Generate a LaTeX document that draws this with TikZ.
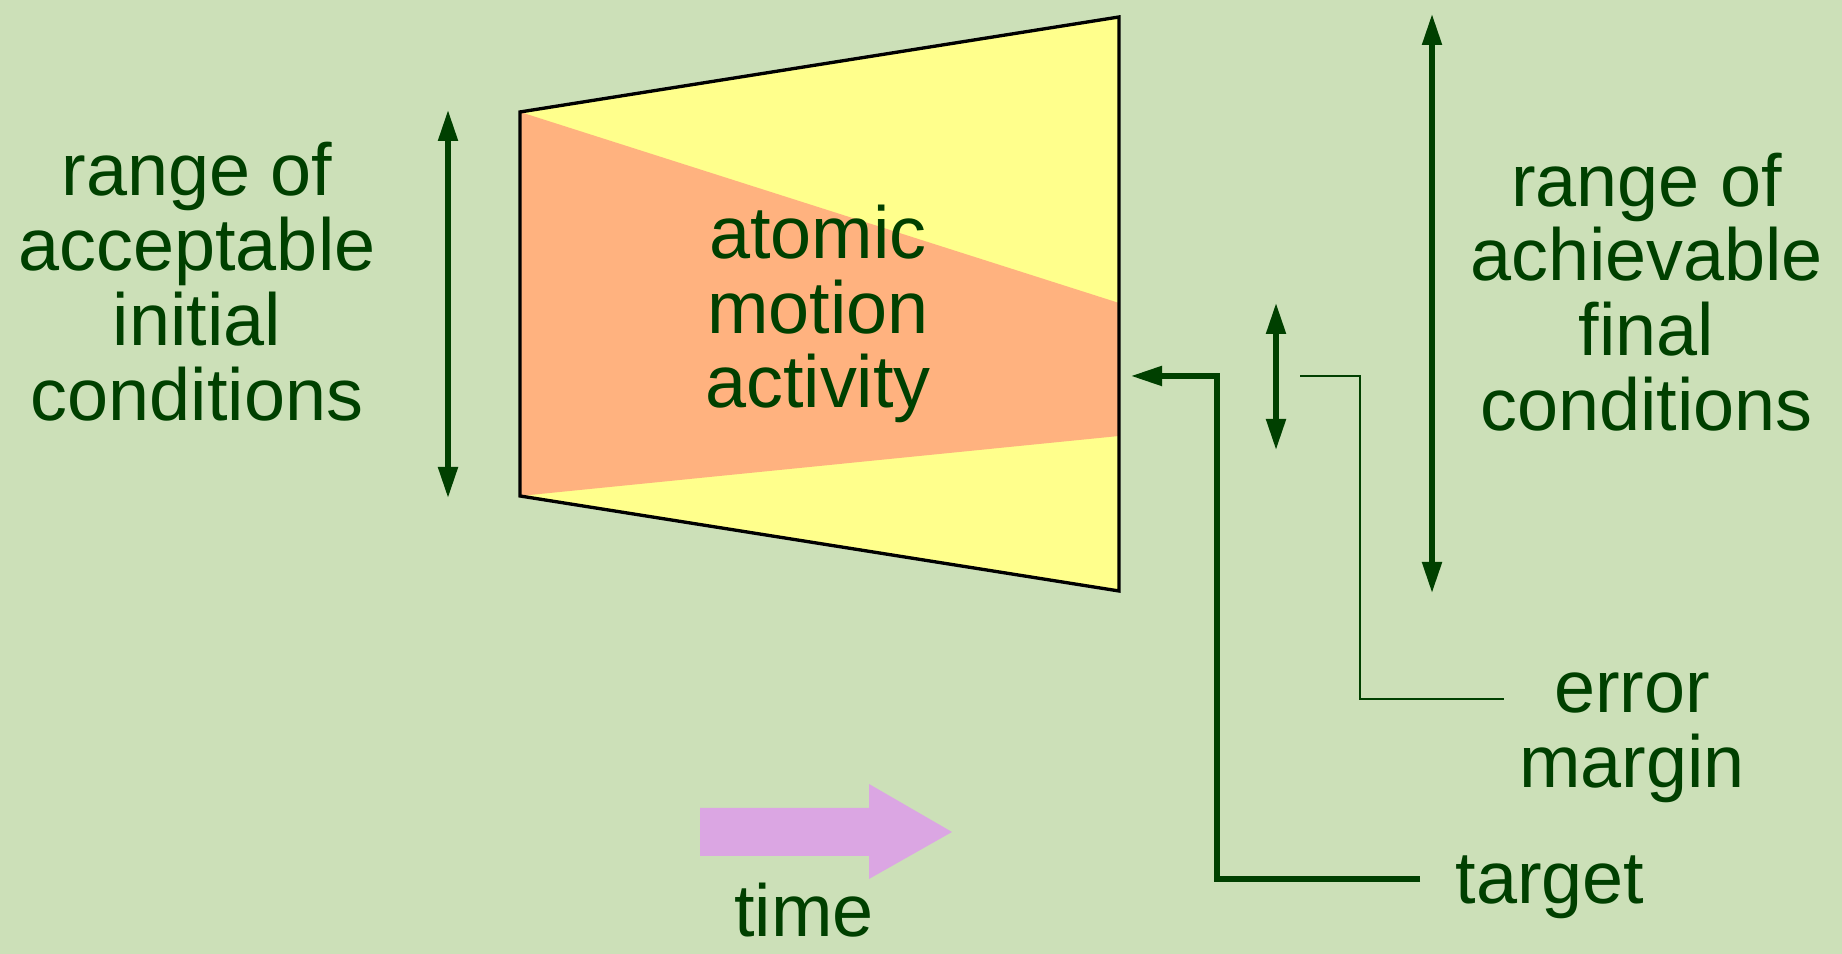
\documentclass[tikz,border=0pt]{standalone}
\usepackage{fontspec}
\setmainfont{Liberation Sans}
\usepackage{xcolor}
\usetikzlibrary{positioning,arrows.meta}

\definecolor{bggreen}{RGB}{204,224,184}
\definecolor{darkgreen}{RGB}{0,64,0}
\definecolor{paleyellow}{RGB}{255,255,140}
\definecolor{salmon}{RGB}{255,178,127}
\definecolor{lilac}{RGB}{219,166,227}

\begin{document}
\begin{tikzpicture}[
    txt/.style={align=center, inner sep=0pt, text=darkgreen, font=\fontsize{21}{21.3}\selectfont},
    rangearrow/.style={{Triangle[length=3.1mm,width=1.9mm]}-{Triangle[length=3.1mm,width=1.9mm]}, line width=1.45pt, draw=darkgreen},
    arrow/.style={-{Triangle[length=3.1mm,width=1.9mm]}, line width=1.45pt, draw=darkgreen},
    leader/.style={line width=0.5pt, draw=darkgreen},
    trapedge/.style={draw=black, line width=0.95pt},
]
\fill[bggreen] (0,0) rectangle (18.42,9.54);
\useasboundingbox (0,0) rectangle (18.42,9.54);

\coordinate (tl) at (5.20,8.42);
\coordinate (bl) at (5.20,4.58);
\coordinate (tr) at (11.19,9.37);
\coordinate (br) at (11.19,3.63);
\coordinate (bandtop) at (11.19,6.51);
\coordinate (bandbot) at (11.19,5.18);
\fill[paleyellow] (tl) -- (tr) -- (br) -- (bl) -- cycle;
\fill[salmon] (tl) -- (bandtop) -- (bandbot) -- (bl) -- cycle;
\draw[trapedge] (tl) -- (tr) -- (br) -- (bl) -- cycle;

\node[txt] (activity) at (8.18,6.40) {atomic\\motion\\activity};
\node[txt] (initial) at (1.97,6.725) {range of\\acceptable\\initial\\conditions};
\node[txt] (final) at (16.465,6.62) {range of\\achievable\\final\\conditions};
\node[txt] (margin) at (16.32,2.16) {error\\margin};
\node[txt, anchor=base west] (target) at (14.55,0.50) {target};
\node[txt, anchor=base] (time) at (8.04,0.17) {time};

\fill[lilac] (7.00,0.98) -- (7.00,1.46) -- (8.69,1.46) -- (8.69,1.70) -- (9.52,1.22)
    -- (8.69,0.75) -- (8.69,0.98) -- cycle;

\coordinate (init-top) at (4.48,8.44);
\coordinate (init-bot) at (4.48,4.56);
\coordinate (fin-top) at (14.32,9.40);
\coordinate (fin-bot) at (14.32,3.61);
\coordinate (err-top) at (12.76,6.51);
\coordinate (err-bot) at (12.76,5.04);
\coordinate (tgt-tip) at (11.31,5.78);
\coordinate (tgt-bend) at (12.17,5.78);
\coordinate (tgt-end) at (14.20,0.75);
\coordinate (err-start) at (13.00,5.78);
\coordinate (err-bend) at (13.60,2.55);
\coordinate (err-end) at (15.04,2.55);

\draw[rangearrow] (init-top) -- (init-bot);
\draw[rangearrow] (fin-top) -- (fin-bot);
\draw[rangearrow] (err-top) -- (err-bot);
\draw[arrow] (tgt-end) -| (tgt-bend) -- (tgt-tip);
\draw[leader] (err-start) -| (err-bend) -- (err-end);
\end{tikzpicture}
\end{document}
